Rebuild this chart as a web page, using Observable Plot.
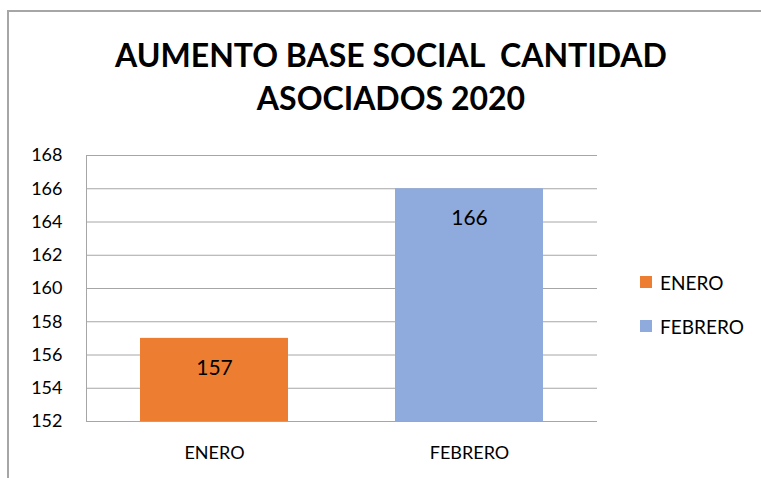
<!DOCTYPE html>
<html><head><meta charset="utf-8">
<script src="https://cdn.jsdelivr.net/npm/d3@7"></script>
<script src="https://cdn.jsdelivr.net/npm/@observablehq/plot@0.6"></script>
<style>
html,body{margin:0;padding:0;background:#fff;}
#wrap{position:relative;width:761px;height:478px;overflow:hidden;font-family:Lato,"Open Sans",sans-serif;}
#frame{position:absolute;left:7px;top:10px;width:800px;height:500px;border-left:2px solid #a6a6a6;border-top:2px solid #a6a6a6;box-sizing:border-box;}
#title{position:absolute;left:0;top:33px;width:782px;text-align:center;font-weight:bold;font-size:32px;line-height:43px;color:#000;}
#chart{position:absolute;left:0;top:135px;}
#legend{position:absolute;left:640px;top:260px;font-size:19px;color:#000;}
.item{display:flex;align-items:center;height:44px;}
.sw{width:12px;height:12px;margin-right:8px;}
</style></head>
<body>
<div id="wrap">
  <div id="frame"></div>
  <div id="title">AUMENTO BASE SOCIAL&nbsp; CANTIDAD<br>ASOCIADOS 2020</div>
  <div id="chart"></div>
  <div id="legend"></div>
</div>
<script>
const categories = ["ENERO", "FEBRERO"];
const values = [157, 166];
const colors = ["#ED7D31", "#8FAADC"];
const yTicks = [152, 154, 156, 158, 160, 162, 164, 166, 168];
const yDomain = [152, 168];

const data = categories.map((c, i) => ({month: c, value: values[i], base: yDomain[0]}));

const chart = Plot.plot({
  width: 761,
  height: 343,
  marginLeft: 86,
  marginRight: 164,
  marginTop: 20,
  marginBottom: 57,
  style: {fontFamily: "Lato, 'Open Sans', sans-serif", fontSize: "18px", color: "#000", background: "transparent"},
  x: {domain: categories, paddingInner: 0.42, paddingOuter: 0.21, label: null, tickSize: 0, tickPadding: 25},
  y: {domain: yDomain, ticks: yTicks, label: null, tickSize: 0, tickPadding: 24},
  color: {domain: categories, range: colors},
  marks: [
    Plot.gridY(yTicks, {stroke: "#a6a6a6", strokeOpacity: 1, strokeWidth: 1}),
    Plot.frame({anchor: "left", stroke: "#a6a6a6"}),
    Plot.barY(data, {x: "month", y1: "base", y2: "value", fill: "month"}),
    Plot.ruleY([yDomain[0]], {stroke: "#a6a6a6"}),
    Plot.text(data, {x: "month", y: "value", text: d => String(d.value), dy: 30, fontSize: 21, fill: "#000"})
  ]
});
document.getElementById("chart").appendChild(chart);

const legend = document.getElementById("legend");
categories.forEach((c, i) => {
  const it = document.createElement("div");
  it.className = "item";
  it.innerHTML = `<div class="sw" style="background:${colors[i]}"></div><span>${c}</span>`;
  legend.appendChild(it);
});
</script>
</body></html>
